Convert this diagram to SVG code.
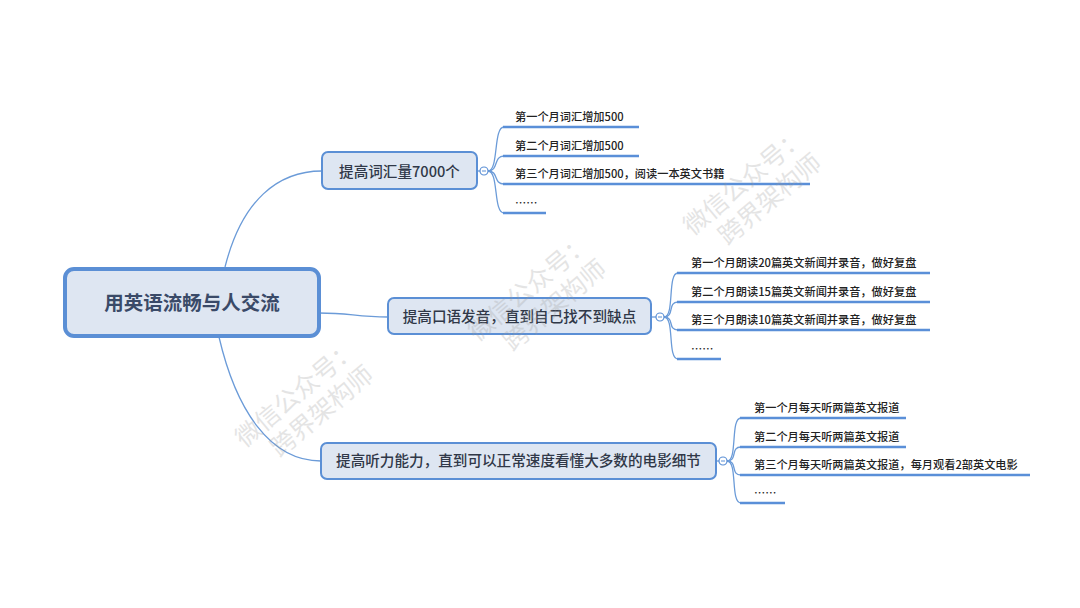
<svg xmlns="http://www.w3.org/2000/svg" width="1080" height="608" viewBox="0 0 1080 608">
<style>
text{font-family:"Noto Sans CJK SC","Noto Sans",sans-serif}
.root rect{fill:#dee6f2;stroke:#5b8fd5;stroke-width:4}
.root text{font-size:19.5px;font-weight:bold;fill:#3a4a68;text-anchor:middle}
.br rect{fill:#dee6f2;stroke:#5b8fd5;stroke-width:2}
.br text{font-size:14.6px;font-weight:500;fill:#303848;text-anchor:middle}
.col{fill:#fff;stroke:#5b8fd5;stroke-width:1.2}
.dash{stroke:#5b8fd5;stroke-width:1}
.con{fill:none;stroke:#6b9bd8;stroke-width:1.3}
.ul{fill:none;stroke:#5a8fd8;stroke-width:2.6}
.leaf text{font-size:11.2px;font-weight:500;fill:#222}
.wm{font-size:25px;fill:#9a9a9a;opacity:0.26;text-anchor:middle}
</style>
<rect width="1080" height="608" fill="#fff"/>
<g id="connectors">
<path class="con" d="M225,267 C242,200 278,171 322,171"/>
<path class="con" d="M319,313 C350,313 356,317 388,317"/>
<path class="con" d="M219,337 C236,410 270,461 321,461"/>
<path class="con" d="M477,171 L480,171"/>
<path class="con" d="M651,317 L656,317"/>
<path class="con" d="M716,461 L719,461"/>
<path class="con" d="M488,171 C499,171 493,127 504,127"/>
<path class="con" d="M488,171 C499,171 493,156 504,156"/>
<path class="con" d="M488,171 C499,171 493,184 504,184"/>
<path class="con" d="M488,171 C499,171 493,213 504,213"/>
<path class="con" d="M664,317 C675,317 667,273 678,273"/>
<path class="con" d="M664,317 C675,317 667,302 678,302"/>
<path class="con" d="M664,317 C675,317 667,330 678,330"/>
<path class="con" d="M664,317 C675,317 667,359 678,359"/>
<path class="con" d="M727,461 C738,461 730,418 741,418"/>
<path class="con" d="M727,461 C738,461 730,447 741,447"/>
<path class="con" d="M727,461 C738,461 730,475 741,475"/>
<path class="con" d="M727,461 C738,461 730,503 741,503"/>
</g>
<g id="root" class="root">
<rect x="65" y="269" width="254" height="67" rx="9"/>
<text x="192" y="310">用英语流畅与人交流</text>
</g>
<g id="b1" class="br">
<rect x="322" y="152" width="155" height="37" rx="6"/>
<text x="399.5" y="176.5">提高词汇量7000个</text>
<circle class="col" cx="484" cy="171" r="4"/><path class="dash" d="M482,171 H486"/>
</g>
<g id="b2" class="br">
<rect x="388" y="298" width="263" height="36" rx="6"/>
<text x="519.5" y="321.5">提高口语发音，直到自己找不到缺点</text>
<circle class="col" cx="660" cy="317" r="4"/><path class="dash" d="M658,317 H662"/>
</g>
<g id="b3" class="br">
<rect x="321" y="443" width="395" height="36" rx="6"/>
<text x="518.5" y="466">提高听力能力，直到可以正常速度看懂大多数的电影细节</text>
<circle class="col" cx="723" cy="461" r="4"/><path class="dash" d="M721,461 H725"/>
</g>
<g id="b1-1" class="leaf"><path class="ul" d="M503,127 H639"/><text x="515" y="121">第一个月词汇增加500</text></g>
<g id="b1-2" class="leaf"><path class="ul" d="M503,156 H639"/><text x="515" y="150">第二个月词汇增加500</text></g>
<g id="b1-3" class="leaf"><path class="ul" d="M503,184 H810"/><text x="515" y="178">第三个月词汇增加500，阅读一本英文书籍</text></g>
<g id="b1-4" class="leaf"><path class="ul" d="M503,213 H546"/><text x="515" y="207">……</text></g>
<g id="b2-1" class="leaf"><path class="ul" d="M677,273 H930"/><text x="691" y="267">第一个月朗读20篇英文新闻并录音，做好复盘</text></g>
<g id="b2-2" class="leaf"><path class="ul" d="M677,302 H930"/><text x="691" y="296">第二个月朗读15篇英文新闻并录音，做好复盘</text></g>
<g id="b2-3" class="leaf"><path class="ul" d="M677,330 H930"/><text x="691" y="324">第三个月朗读10篇英文新闻并录音，做好复盘</text></g>
<g id="b2-4" class="leaf"><path class="ul" d="M677,359 H721"/><text x="691" y="353">……</text></g>
<g id="b3-1" class="leaf"><path class="ul" d="M740,418 H906"/><text x="754" y="412">第一个月每天听两篇英文报道</text></g>
<g id="b3-2" class="leaf"><path class="ul" d="M740,447 H906"/><text x="754" y="441">第二个月每天听两篇英文报道</text></g>
<g id="b3-3" class="leaf"><path class="ul" d="M740,475 H1030"/><text x="754" y="469">第三个月每天听两篇英文报道，每月观看2部英文电影</text></g>
<g id="b3-4" class="leaf"><path class="ul" d="M740,503 H785"/><text x="754" y="497">……</text></g>
<g id="watermarks">
<g transform="translate(750,188) rotate(-40)"><text class="wm" x="0" y="0">微信公众号：</text><text class="wm" x="8" y="30">跨界架构师</text></g>
<g transform="translate(535,294) rotate(-40)"><text class="wm" x="0" y="0">微信公众号：</text><text class="wm" x="8" y="30">跨界架构师</text></g>
<g transform="translate(302,400) rotate(-40)"><text class="wm" x="0" y="0">微信公众号：</text><text class="wm" x="8" y="30">跨界架构师</text></g>
</g>
</svg>
